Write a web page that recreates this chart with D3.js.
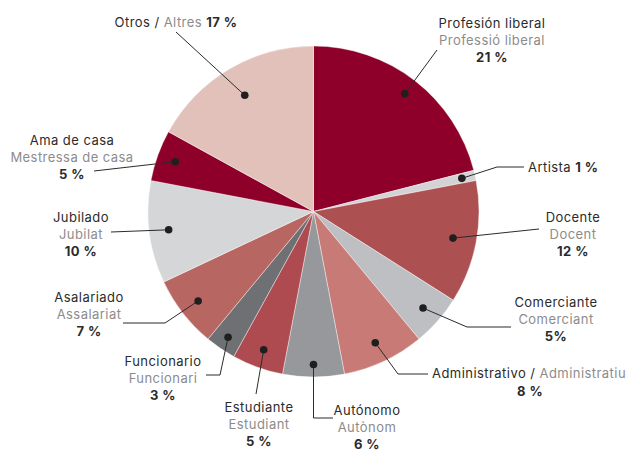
<!DOCTYPE html>
<html>
<head>
<meta charset="utf-8">
<script src="https://cdn.jsdelivr.net/npm/d3@7/dist/d3.min.js"></script>
<style>
  html, body { margin: 0; padding: 0; background: #fff; }
  svg { display: block; }
  text { font-family: Inter, Roboto, "Noto Sans", sans-serif; font-size: 13px; letter-spacing: 0.45px; }
</style>
</head>
<body>
<svg id="chart" width="632" height="450"></svg>
<script>
// Professions, Spanish and Catalan names, share in percent (clockwise from 12 o'clock)
const namesEs = ["Profesión liberal", "Artista", "Docente", "Comerciante", "Administrativo",
  "Autónomo", "Estudiante", "Funcionario", "Asalariado", "Jubilado", "Ama de casa", "Otros"];
const namesCa = ["Professió liberal", "Artista", "Docent", "Comerciant", "Administratiu",
  "Autònom", "Estudiant", "Funcionari", "Assalariat", "Jubilat", "Mestressa de casa", "Altres"];
const shares = [21, 1, 12, 5, 8, 6, 5, 3, 7, 10, 5, 17];
const shareLabels = ["21 %", "1 %", "12 %", "5%", "8 %", "6 %", "5 %", "3 %", "7 %", "10 %", "5 %", "17 %"];
const sliceColors = ["#8e0029", "#d3d3d5", "#ad5052", "#bebfc3", "#c87a77", "#97989c",
  "#ad4b50", "#6f7073", "#b86662", "#d5d6d8", "#8e0029", "#e3c1bb"];

const svg = d3.select("#chart");
const cx = 313.5, cy = 211.5, radius = 165.5;
const g = svg.append("g").attr("transform", `translate(${cx},${cy})`);

const rows = namesEs.map((es, i) => ({ es, ca: namesCa[i], value: shares[i], label: shareLabels[i], color: sliceColors[i] }));

const pie = d3.pie().value(d => d.value).sort(null).startAngle(0).endAngle(2 * Math.PI);
const arcs = pie(rows);
const arc = d3.arc().innerRadius(0).outerRadius(radius);

g.selectAll("path.slice")
  .data(arcs)
  .join("path")
  .attr("class", "slice")
  .attr("d", arc)
  .attr("fill", d => d.data.color)
  .attr("stroke", "#ffffff")
  .attr("stroke-width", 0.5)
  .attr("stroke-opacity", 0.8);

// Label placement: text anchor, first baseline, leader elbow points, dot distance from centre
const labelLayout = {
  "Profesión liberal": { x: 492, y: 27.5, anchor: "middle", lines: "three", path: [[437, 50]], dr: 149 },
  "Artista": { x: 528, y: 171.5, anchor: "start", lines: "inline-pct", path: [[497, 167], [524, 167]], dr: 152 },
  "Docente": { x: 573, y: 221.5, anchor: "middle", lines: "three", path: [[539, 229]], dr: 142 },
  "Comerciante": { x: 556, y: 306.5, anchor: "middle", lines: "three", path: [[467, 327], [511, 327]], dr: 146 },
  "Administrativo": { x: 432, y: 377.5, anchor: "start", lines: "slash", pctX: 530, path: [[398, 374], [428, 374]], dr: 145 },
  "Autónomo": { x: 367, y: 414.5, anchor: "middle", lines: "three", path: [[313.5, 418], [333, 418]], dr: 153 },
  "Estudiante": { x: 259, y: 411.5, anchor: "middle", lines: "three", path: [[256, 394]], dr: 147 },
  "Funcionario": { x: 163, y: 365.5, anchor: "middle", lines: "three", path: [[220, 375], [206, 375]], dr: 152 },
  "Asalariado": { x: 89, y: 301.5, anchor: "middle", lines: "three", path: [[165, 323], [123, 323]], dr: 146 },
  "Jubilado": { x: 81, y: 221.5, anchor: "middle", lines: "three", path: [[111, 232]], dr: 146 },
  "Ama de casa": { x: 72, y: 144.5, anchor: "middle", lines: "three", path: [[94, 171]], dr: 147 },
  "Otros": { x: 176, y: 26.5, anchor: "middle", lines: "slash-pct", path: [[176, 32]], dr: 135 }
};

const dark = "#2b2b2b", grey = "#8c8c8c", lineH = 17;
const ann = svg.append("g");

arcs.forEach(a => {
  const d = a.data;
  const L = labelLayout[d.es];
  const mid = (a.startAngle + a.endAngle) / 2;
  const dx = cx + Math.sin(mid) * L.dr;
  const dy = cy - Math.cos(mid) * L.dr;

  const pts = [[dx, dy], ...L.path];
  ann.append("path")
    .attr("d", d3.line()(pts))
    .attr("fill", "none")
    .attr("stroke", "#2b2b2b")
    .attr("stroke-width", 1);
  ann.append("circle")
    .attr("cx", dx).attr("cy", dy).attr("r", 3.8)
    .attr("fill", "#1f1f1f");

  if (L.lines === "three") {
    const t = ann.append("text").attr("text-anchor", L.anchor);
    t.append("tspan").attr("x", L.x).attr("y", L.y).attr("fill", dark).text(d.es);
    t.append("tspan").attr("x", L.x).attr("y", L.y + lineH).attr("fill", grey).text(d.ca);
    t.append("tspan").attr("x", L.x).attr("y", L.y + 2 * lineH).attr("fill", dark)
      .attr("font-weight", "bold").text(d.label);
  } else if (L.lines === "inline-pct") {
    const t = ann.append("text").attr("x", L.x).attr("y", L.y).attr("text-anchor", L.anchor);
    t.append("tspan").attr("fill", dark).text(d.es + " ");
    t.append("tspan").attr("fill", dark).attr("font-weight", "bold").text(d.label);
  } else if (L.lines === "slash") {
    const t = ann.append("text").attr("x", L.x).attr("y", L.y).attr("text-anchor", L.anchor);
    t.append("tspan").attr("fill", dark).text(d.es + " / ");
    t.append("tspan").attr("fill", grey).text(d.ca);
    ann.append("text").attr("x", L.pctX).attr("y", L.y + lineH + 1).attr("text-anchor", "middle")
      .attr("fill", dark).attr("font-weight", "bold").text(d.label);
  } else if (L.lines === "slash-pct") {
    const t = ann.append("text").attr("x", L.x).attr("y", L.y).attr("text-anchor", L.anchor);
    t.append("tspan").attr("fill", dark).text(d.es + " / ");
    t.append("tspan").attr("fill", grey).text(d.ca + " ");
    t.append("tspan").attr("fill", dark).attr("font-weight", "bold").text(d.label);
  }
});
</script>
</body>
</html>
